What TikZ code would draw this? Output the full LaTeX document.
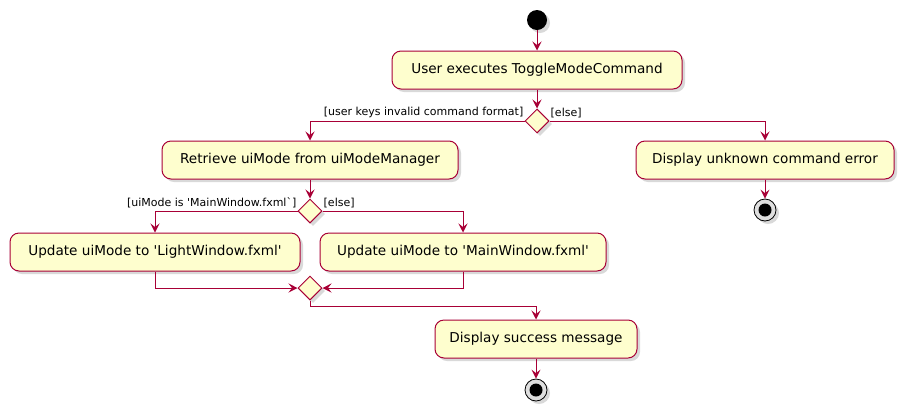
\documentclass[tikz,border=0pt]{standalone}
\usepackage{fontspec}
\setmainfont{DejaVu Sans}
\usetikzlibrary{arrows.meta,shadows,shapes.geometric}
\definecolor{umlred}{HTML}{A80036}
\definecolor{umlfill}{HTML}{FEFECE}
\newcommand{\sq}{\textquotesingle}

\begin{document}
\begin{tikzpicture}[x=1pt,y=-1pt,
	activity/.style={draw=umlred,fill=umlfill,rounded corners=9pt,line width=1pt,
		minimum height=38pt,inner xsep=6pt,font=\fontsize{13.6}{16}\selectfont,
		drop shadow={opacity=0.3,shadow xshift=3pt,shadow yshift=-3pt}},
	choice/.style={diamond,aspect=1,draw=umlred,fill=umlfill,line width=1pt,
		minimum size=24pt,inner sep=0pt,
		drop shadow={opacity=0.3,shadow xshift=3pt,shadow yshift=-3pt}},
	flow/.style={draw=umlred,line width=1pt,-{Stealth[length=9pt,width=9pt,inset=3.5pt]}},
	guard/.style={font=\fontsize{11}{13}\selectfont,inner sep=1pt}]
	\useasboundingbox (0,0) rectangle (910,416);

	% start and first action
	\node[circle,fill=black,minimum size=20pt,inner sep=0pt,
		drop shadow={opacity=0.3,shadow xshift=3pt,shadow yshift=-3pt}] (start) at (537,20) {};
	\node[activity,minimum width=290pt] (toggle) at (537,70) {User executes ToggleModeCommand};
	\node[choice] (check) at (537,121) {};

	% first split
	\node[activity,minimum width=296pt] (retrieve) at (310,160) {Retrieve uiMode from uiModeManager};
	\node[activity,minimum width=258pt] (unknown) at (765,160) {Display unknown command error};
	\node[circle,draw=black,fill=gray!25,line width=0.8pt,minimum size=22pt,inner sep=0pt,
		drop shadow={opacity=0.3,shadow xshift=3pt,shadow yshift=-3pt}] (stopErr) at (765,210) {};
	\node[circle,fill=black,minimum size=13pt,inner sep=0pt] at (stopErr) {};

	% second split
	\node[choice] (mode) at (310,211) {};
	\node[activity,minimum width=290pt] (light) at (155,252) {Update uiMode to \sq LightWindow.fxml\sq};
	\node[activity,minimum width=286pt] (main) at (463,252) {Update uiMode to \sq MainWindow.fxml\sq};
	\node[choice] (merge) at (310,288) {};

	% last action
	\node[activity,minimum width=202pt] (success) at (536,339) {Display success message};
	\node[circle,draw=black,fill=gray!25,line width=0.8pt,minimum size=22pt,inner sep=0pt,
		drop shadow={opacity=0.3,shadow xshift=3pt,shadow yshift=-3pt}] (stopOk) at (536,390) {};
	\node[circle,fill=black,minimum size=13pt,inner sep=0pt] at (stopOk) {};

	% guards
	\node[guard,anchor=south east] at ([yshift=2pt]check.west) {[user keys invalid command format]};
	\node[guard,anchor=south west] at ([yshift=2pt]check.east) {[else]};
	\node[guard,anchor=south east] at ([yshift=2pt]mode.west) {[uiMode is \sq MainWindow.fxml\textasciigrave]};
	\node[guard,anchor=south west] at ([yshift=2pt]mode.east) {[else]};

	% flows
	\draw[flow] (start) -- (toggle);
	\draw[flow] (toggle) -- (check);
	\draw[flow] (check.west) -| (retrieve);
	\draw[flow] (check.east) -| (unknown);
	\draw[flow] (unknown) -- (stopErr);
	\draw[flow] (retrieve) -- (mode);
	\draw[flow] (mode.west) -| (light);
	\draw[flow] (mode.east) -| (main);
	\draw[flow] (light) |- (merge.west);
	\draw[flow] (main) |- (merge.east);
	\draw[flow] (merge.south) -- ++(0,6) -| (success);
	\draw[flow] (success) -- (stopOk);
\end{tikzpicture}
\end{document}
